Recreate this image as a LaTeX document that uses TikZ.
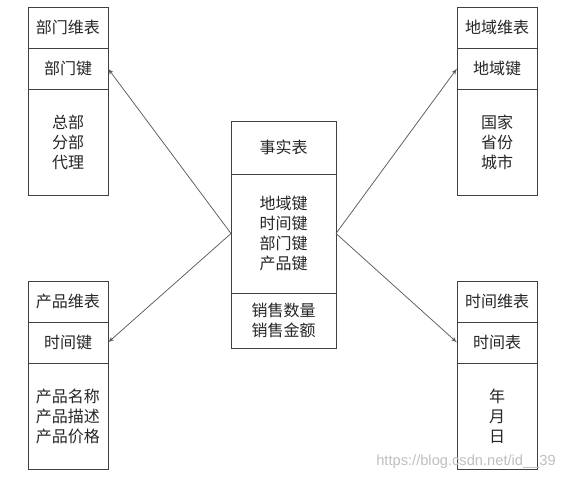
\documentclass[tikz,border=0pt]{standalone}
\usepackage{fontspec}
\newfontfamily\cjk{Noto Sans CJK SC}
\newfontfamily\marksans{Liberation Sans}
\usepackage{tikz}
\usetikzlibrary{arrows,positioning}
\tikzset{
cell/.style = {draw=black!75, line width=0.6pt, fill=white, rectangle, inner sep=0pt, outer sep=0pt, align=center,
               font=\cjk\fontsize{12}{15}\selectfont, text=black!85},
dimhead/.style = {cell, minimum width=60pt, minimum height=30.75pt, anchor=north},
dimkey/.style  = {cell, minimum width=60pt, minimum height=30.75pt},
dimbody/.style = {cell, minimum width=60pt, minimum height=80pt},
facthead/.style = {cell, minimum width=78.75pt, minimum height=39.75pt, anchor=north},
factkey/.style  = {cell, minimum width=78.75pt, minimum height=89.25pt},
factval/.style  = {cell, minimum width=78.75pt, minimum height=41.25pt},
link/.style = {->, draw=black!65, line width=0.55pt}
}

\begin{document}
\begin{tikzpicture}[x=0.75pt, y=-0.75pt, >=latex']
  \useasboundingbox (0,0) rectangle (571,481);

  % fact table
  \node [facthead] at (283.5,121)       (fact)      {事实表};
  \node [factkey, below=0pt of fact]    (factkeys)  {地域键\\时间键\\部门键\\产品键};
  \node [factval, below=0pt of factkeys] (factvals) {销售数量\\销售金额};

  % dimension tables
  \node [dimhead] at (68,7)             (dept)      {部门维表};
  \node [dimkey, below=0pt of dept]     (deptkey)   {部门键};
  \node [dimbody, below=0pt of deptkey] (deptbody)  {总部\\分部\\代理};

  \node [dimhead] at (497,7)            (area)      {地域维表};
  \node [dimkey, below=0pt of area]     (areakey)   {地域键};
  \node [dimbody, below=0pt of areakey] (areabody)  {国家\\省份\\城市};

  \node [dimhead] at (68,281)           (prod)      {产品维表};
  \node [dimkey, below=0pt of prod]     (prodkey)   {时间键};
  \node [dimbody, below=0pt of prodkey] (prodbody)  {产品名称\\产品描述\\产品价格};

  \node [dimhead] at (497,281)          (time)      {时间维表};
  \node [dimkey, below=0pt of time]     (timekey)   {时间表};
  \node [dimbody, below=0pt of timekey] (timebody)  {年\\月\\日};

  \draw [link] (factkeys.west) -- (deptkey.east);
  \draw [link] (factkeys.west) -- (prodkey.east);
  \draw [link] (factkeys.east) -- (areakey.west);
  \draw [link] (factkeys.east) -- (timekey.west);

  \node [font=\marksans\fontsize{11}{13}\selectfont, text=black!25] at (466,462) (mark) {https://blog.csdn.net/id\_\_39};
\end{tikzpicture}
\end{document}
